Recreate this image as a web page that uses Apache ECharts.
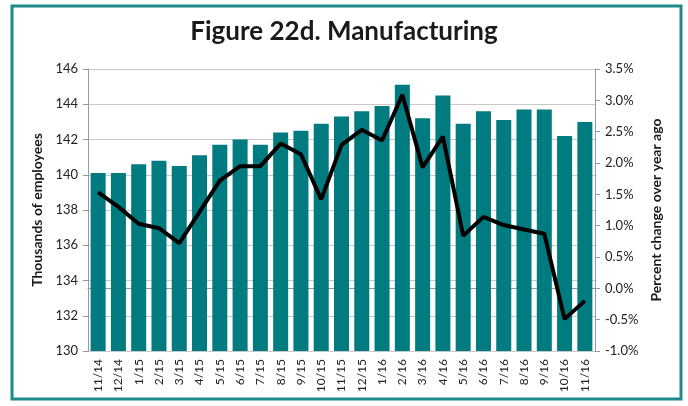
<!DOCTYPE html>
<html>
<head>
<meta charset="utf-8">
<script src="https://cdn.jsdelivr.net/npm/echarts@6/dist/echarts.min.js"></script>
<style>
  html, body { margin: 0; padding: 0; background: #fff; }
  #main { width: 688px; height: 406px; }
</style>
</head>
<body>
<div id="main"></div>
<script>
// Figure 22d - manufacturing employment + year-over-year change
var months = ['11/14', '12/14', '1/15', '2/15', '3/15', '4/15', '5/15', '6/15', '7/15', '8/15',
    '9/15', '10/15', '11/15', '12/15', '1/16', '2/16', '3/16', '4/16', '5/16', '6/16',
    '7/16', '8/16', '9/16', '10/16', '11/16'];
var employees = [140.1, 140.1, 140.6, 140.8, 140.5, 141.1, 141.7, 142.0, 141.7, 142.4,
    142.5, 142.9, 143.3, 143.6, 143.9, 145.1, 143.2, 144.5, 142.9, 143.6,
    143.1, 143.7, 143.7, 142.2, 143.0];
var pctChange = [1.53, 1.30, 1.03, 0.96, 0.72, 1.22, 1.72, 1.95, 1.95, 2.31,
    2.14, 1.42, 2.29, 2.53, 2.36, 3.09, 1.93, 2.42, 0.84, 1.14,
    1.01, 0.94, 0.87, -0.49, -0.20];

var font = 'Lato, "Open Sans", sans-serif';
var teal = '#007b7f';

var myChart = echarts.init(document.getElementById('main'));

var option = {
    animation: false,
    textStyle: { fontFamily: font },
    title: {
        text: 'Figure 22d. Manufacturing',
        left: 'center',
        top: 14,
        textStyle: { fontSize: 26, fontWeight: 'bold', color: '#1a1a1a', fontFamily: font }
    },
    graphic: [{
        type: 'rect',
        shape: { x: 12, y: 6, width: 669, height: 393 },
        style: { fill: 'none', stroke: '#1f8a8c', lineWidth: 3 }
    }],
    grid: { left: 88, right: 93, top: 69, bottom: 55 },
    xAxis: {
        type: 'category',
        data: months,
        axisLine: { lineStyle: { color: '#999' } },
        axisTick: { show: false },
        axisLabel: { rotate: 90, color: '#222', fontSize: 12, margin: 8, interval: 0 }
    },
    yAxis: [{
        type: 'value',
        min: 130, max: 146, interval: 2,
        name: 'Thousands of employees',
        nameLocation: 'middle',
        nameGap: 42,
        nameTextStyle: { fontSize: 14, fontWeight: 'bold', color: '#1a1a1a' },
        axisLine: { show: true, lineStyle: { color: '#999' } },
        axisTick: { show: true, length: 5, lineStyle: { color: '#999' } },
        axisLabel: { color: '#222', fontSize: 13, margin: 10 },
        splitLine: { lineStyle: { color: '#c8c8c8' } }
    }, {
        type: 'value',
        min: -1, max: 3.5, interval: 0.5,
        name: 'Percent change over year ago',
        nameLocation: 'middle',
        nameGap: 50,
        nameRotate: 90,
        nameTextStyle: { fontSize: 14, fontWeight: 'bold', color: '#1a1a1a' },
        axisLine: { show: true, lineStyle: { color: '#999' } },
        axisTick: { show: true, length: 5, lineStyle: { color: '#999' } },
        axisLabel: {
            color: '#222', fontSize: 13, margin: 10,
            formatter: function (v) { return v.toFixed(1) + '%'; }
        },
        splitLine: { show: false }
    }],
    series: [{
        type: 'bar',
        data: employees,
        yAxisIndex: 0,
        barCategoryGap: '26%',
        itemStyle: { color: teal }
    }, {
        type: 'line',
        data: pctChange,
        yAxisIndex: 1,
        symbol: 'none',
        lineStyle: { color: '#000', width: 4 }
    }]
};
myChart.setOption(option);
</script>
</body>
</html>
